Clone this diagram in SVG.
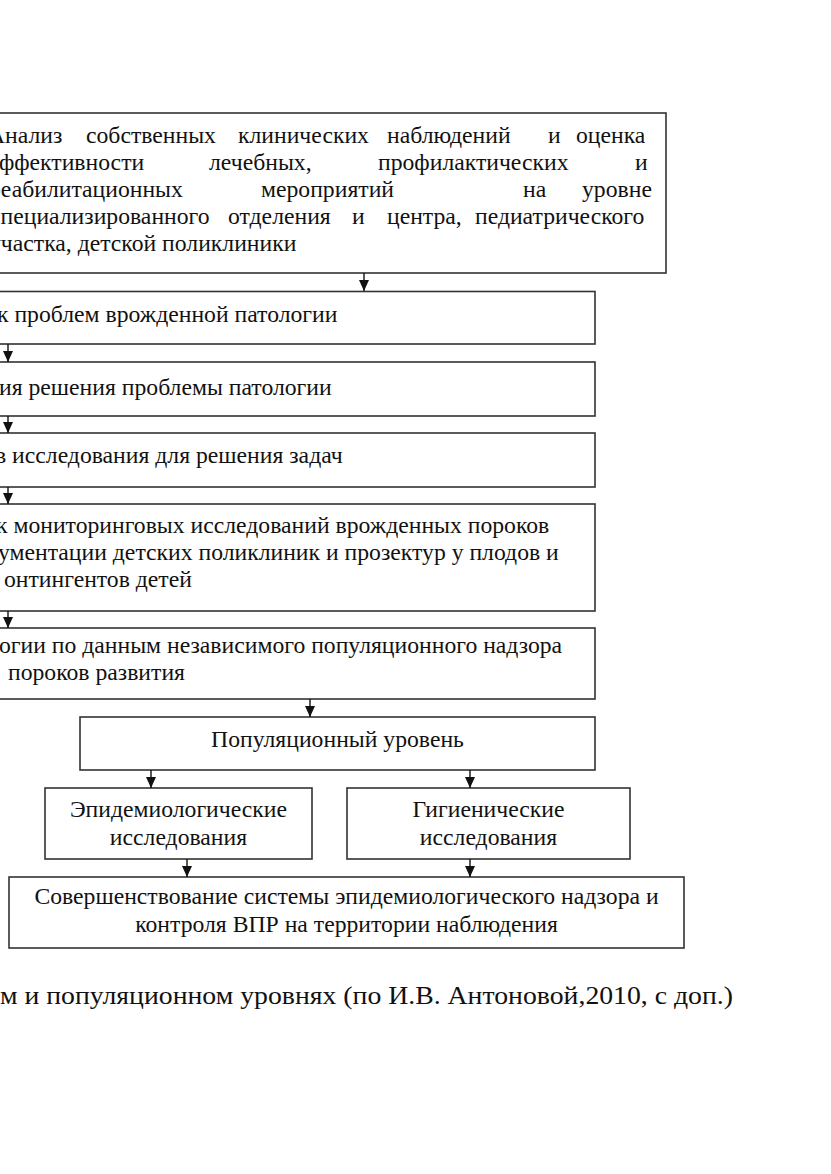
<svg xmlns="http://www.w3.org/2000/svg" width="831" height="1174" viewBox="0 0 831 1174">
<style>
  .box { fill: #ffffff; stroke: #333333; stroke-width: 1.6; }
  .t { font-family: "Liberation Serif", "Times New Roman", serif; font-size: 23.7px; fill: #111111; }
  .c { text-anchor: middle; }
  .conn { stroke: #111111; stroke-width: 1.4; fill: none; marker-end: url(#arrow); }
</style>
<defs>
  <marker id="arrow" markerUnits="userSpaceOnUse" markerWidth="11" markerHeight="10" viewBox="0 0 11 10" refX="11" refY="5" orient="auto">
    <path d="M0,0 L11,5 L0,10 Z" fill="#111111"/>
  </marker>
</defs>
<rect x="0" y="0" width="831" height="1174" fill="#ffffff"/>

<g id="node-analysis">
  <rect class="box" x="-5" y="113" width="671" height="160"/>
  <text class="t" y="143"><tspan x="-12">Анализ</tspan><tspan x="86">собственных</tspan><tspan x="238">клинических</tspan><tspan x="387">наблюдений</tspan><tspan x="548">и</tspan><tspan x="576">оценка</tspan></text>
  <text class="t" y="170"><tspan x="-11">эффективности</tspan><tspan x="209">лечебных,</tspan><tspan x="378">профилактических</tspan><tspan x="635">и</tspan></text>
  <text class="t" y="197"><tspan x="-11">реабилитационных</tspan><tspan x="261">мероприятий</tspan><tspan x="523">на</tspan><tspan x="582">уровне</tspan></text>
  <text class="t" y="224"><tspan x="-10">специализированного</tspan><tspan x="228">отделения</tspan><tspan x="352">и</tspan><tspan x="387">центра,</tspan><tspan x="475">педиатрического</tspan></text>
  <text class="t" x="-11" y="251">участка, детской поликлиники</text>
</g>

<g id="node-problems">
  <rect class="box" x="-5" y="291.5" width="600" height="52.5"/>
  <text class="t" x="-3" y="322">к проблем врожденной патологии</text>
</g>

<g id="node-solution">
  <rect class="box" x="-5" y="362" width="600" height="54"/>
  <text class="t" x="-1" y="395">ия решения проблемы патологии</text>
</g>

<g id="node-research">
  <rect class="box" x="-5" y="433" width="600" height="54"/>
  <text class="t" x="-5" y="463">в исследования для решения задач</text>
</g>

<g id="node-monitoring">
  <rect class="box" x="-5" y="504" width="600" height="107"/>
  <text class="t" x="-4" y="533">к мониторинговых исследований врожденных пороков</text>
  <text class="t" x="-2" y="560">ументации детских поликлиник и прозектур у плодов и</text>
  <text class="t" x="4" y="587">онтингентов детей</text>
</g>

<g id="node-surveillance">
  <rect class="box" x="-5" y="628" width="600" height="71"/>
  <text class="t" x="-1" y="653">огии по данным независимого популяционного надзора</text>
  <text class="t" x="8" y="680">пороков развития</text>
</g>

<g id="node-population">
  <rect class="box" x="80" y="717" width="515" height="53"/>
  <text class="t c" x="337.5" y="747">Популяционный уровень</text>
</g>

<g id="node-epidemiology">
  <rect class="box" x="45" y="788" width="267" height="71"/>
  <text class="t c" x="178.5" y="817">Эпидемиологические</text>
  <text class="t c" x="178.5" y="845">исследования</text>
</g>

<g id="node-hygiene">
  <rect class="box" x="347" y="788" width="283" height="71"/>
  <text class="t c" x="488.5" y="817">Гигиенические</text>
  <text class="t c" x="488.5" y="845">исследования</text>
</g>

<g id="node-improvement">
  <rect class="box" x="9" y="877" width="675" height="71"/>
  <text class="t c" x="346.5" y="904">Совершенствование системы эпидемиологического надзора и</text>
  <text class="t c" x="346.5" y="932">контроля ВПР на территории наблюдения</text>
</g>

<g id="connectors">
  <line class="conn" x1="364" y1="273" x2="364" y2="291"/>
  <line class="conn" x1="8" y1="344" x2="8" y2="362"/>
  <line class="conn" x1="8" y1="416" x2="8" y2="433"/>
  <line class="conn" x1="8" y1="487" x2="8" y2="504"/>
  <line class="conn" x1="8" y1="611" x2="8" y2="628"/>
  <line class="conn" x1="310" y1="699" x2="310" y2="717"/>
  <line class="conn" x1="151" y1="770" x2="151" y2="788"/>
  <line class="conn" x1="470" y1="770" x2="470" y2="788"/>
  <line class="conn" x1="187" y1="859" x2="187" y2="877"/>
  <line class="conn" x1="470" y1="859" x2="470" y2="877"/>
</g>

<text class="t" x="0" y="1004" style="font-size:25px" textLength="733" lengthAdjust="spacingAndGlyphs">м и популяционном уровнях (по И.В. Антоновой,2010, с доп.)</text>
</svg>
